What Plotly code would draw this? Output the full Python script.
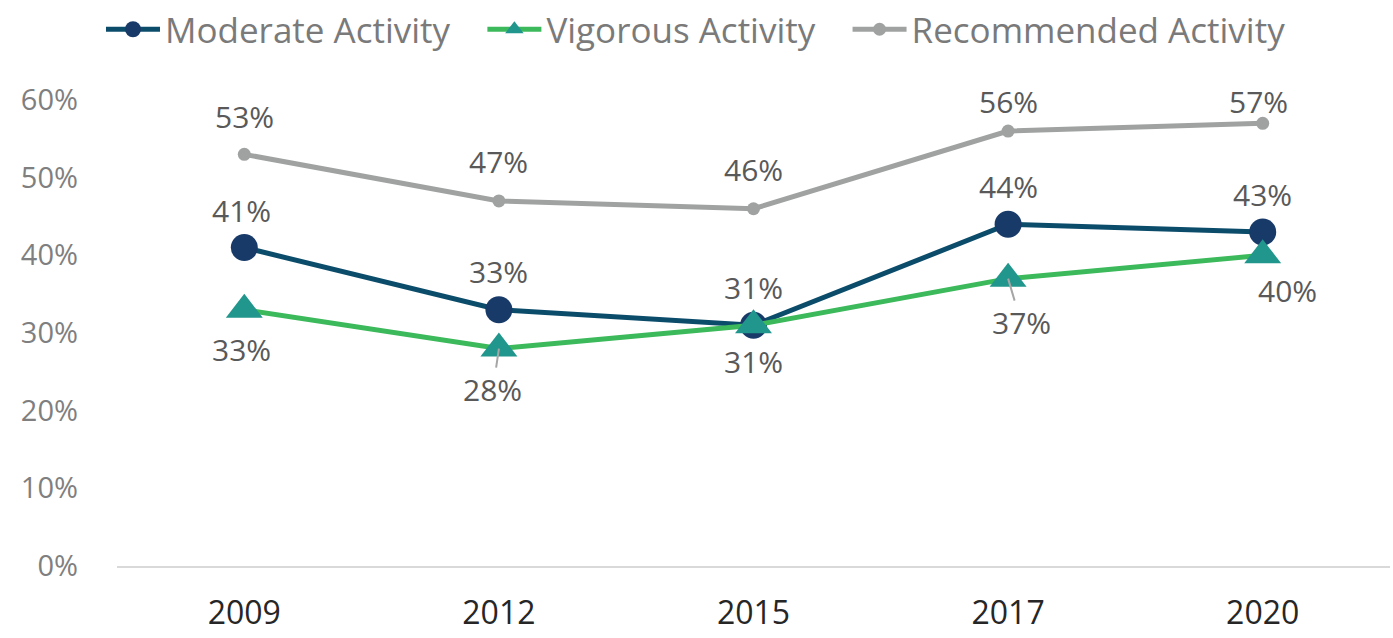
import plotly.graph_objects as go

years = ["2009", "2012", "2015", "2017", "2020"]
moderate = [41, 33, 31, 44, 43]
vigorous = [33, 28, 31, 37, 40]
recommended = [53, 47, 46, 56, 57]

FONT = "Open Sans"
LABEL_COLOR = "#595959"
PAD = "\u00a0" * 3  # extra spacing between legend entries
xpos = list(range(len(years)))

fig = go.Figure()

fig.add_trace(go.Scatter(
    x=xpos, y=moderate, name="Moderate Activity" + PAD, mode="lines+markers",
    line=dict(color="#0b4c6b", width=5),
    marker=dict(symbol="circle", size=27, color="#183a68"),
))
fig.add_trace(go.Scatter(
    x=xpos, y=vigorous, name="Vigorous Activity" + PAD, mode="lines+markers",
    line=dict(color="#3bb95b", width=5),
    marker=dict(symbol="triangle-up", size=32, color="#21968c"),
))
fig.add_trace(go.Scatter(
    x=xpos, y=recommended, name="Recommended Activity", mode="lines+markers",
    line=dict(color="#a0a2a2", width=5),
    marker=dict(symbol="circle", size=13, color="#a0a2a2"),
))

# data labels: (series, x-shift, y-shift in px, leader line)
label_specs = [
    (recommended, [0, 0, 0, 0, -4], [38, 39, 39, 30, 22], [False] * 5),
    (moderate, [-3, 0, 0, 0, 0], [37, 38, 38, 38, 38], [False] * 5),
    (vigorous, [-3, -6, 0, 13, 25], [-40, -41, -36, -44, -35],
     [False, True, False, True, False]),
]
for series, xs, ys, leaders in label_specs:
    for xi, v, dx, dy, lead in zip(xpos, series, xs, ys, leaders):
        if lead:
            fig.add_annotation(
                x=xi, y=v, text=f"{v}%", showarrow=True, arrowhead=0,
                arrowwidth=2, arrowcolor="#a6a6a6", ax=dx, ay=-dy,
                standoff=0, font=dict(family=FONT, size=30, color=LABEL_COLOR),
            )
        else:
            fig.add_annotation(
                x=xi, y=v, text=f"{v}%", showarrow=False,
                xshift=dx, yshift=dy,
                font=dict(family=FONT, size=30, color=LABEL_COLOR),
            )

fig.update_layout(
    width=1393, height=638,
    margin=dict(l=117, r=3, t=100, b=72),
    paper_bgcolor="white", plot_bgcolor="white",
    font=dict(family=FONT),
    showlegend=True,
    legend=dict(
        orientation="h", x=0.0725, xanchor="left", xref="container",
        y=1.0, yanchor="top", yref="container",
        font=dict(family=FONT, size=35, color="#7a7a7a"),
        itemwidth=54, traceorder="normal",
    ),
    xaxis=dict(
        range=[-0.5, 4.5], tickvals=xpos, ticktext=years,
        showgrid=False, showline=True, linecolor="#d9d9d9",
        linewidth=2, ticks="", zeroline=False, automargin=False,
        tickfont=dict(family=FONT, size=32, color="#262626"),
        ticklabelstandoff=18,
    ),
    yaxis=dict(
        range=[0, 60], dtick=10, ticksuffix="%", showgrid=False,
        zeroline=False, showline=False, ticks="", automargin=False,
        tickfont=dict(family=FONT, size=29, color="#7f7f7f"),
        ticklabelstandoff=38,
    ),
)

fig.write_html("out.html")
